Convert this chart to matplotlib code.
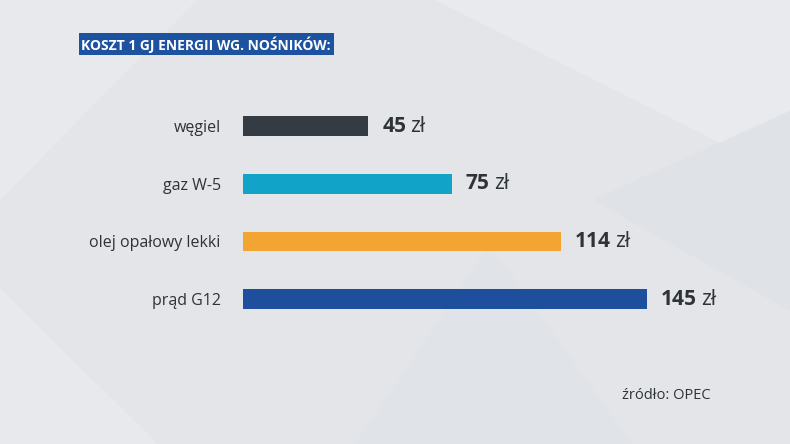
import matplotlib
matplotlib.use("Agg")
import matplotlib.pyplot as plt
from matplotlib.patches import Polygon

plt.rcParams['font.family'] = ['Open Sans', 'DejaVu Sans']

# dane
kategorie = ['węgiel', 'gaz W-5', 'olej opałowy lekki', 'prąd G12']
wartosci = [45, 75, 114, 145]
kolory = ['#353b42', '#11a3c8', '#f2a533', '#1d4f9c']
tytul = 'KOSZT 1 GJ ENERGII WG. NOŚNIKÓW:'
zrodlo = 'źródło: OPEC'

fig = plt.figure(figsize=(7.9, 4.44), dpi=100)
fig.patch.set_facecolor('#e3e5e9')

# tlo - delikatne wielokaty
tlo = [
    ([(0.0, 1.0), (0.25, 1.0), (0.0, 0.55)], '#e7e9ec'),
    ([(0.55, 1.0), (1.0, 1.0), (1.0, 0.6)], '#e8eaed'),
    ([(0.45, 0.0), (0.8, 0.0), (0.62, 0.45)], '#e0e3e7'),
    ([(0.0, 0.0), (0.2, 0.0), (0.0, 0.35)], '#e7e9ec'),
    ([(0.75, 0.55), (1.0, 0.3), (1.0, 0.75)], '#dfe2e6'),
]
for pts, c in tlo:
    fig.patches.append(Polygon(pts, closed=True, transform=fig.transFigure,
                               facecolor=c, edgecolor='none', zorder=0))

ax = fig.add_axes([0.3076, 0.2613, 0.5646, 0.5196])
ax.set_zorder(2)
ax.set_facecolor('none')
y = list(range(len(kategorie)))
ax.barh(y, wartosci, height=0.345, color=kolory)
ax.set_xlim(0, 160)
ax.set_ylim(3.5, -0.5)
ax.set_yticks(y)
ax.set_yticklabels(kategorie, fontsize=11.5, color='#2e3338')
ax.tick_params(axis='y', length=0, pad=16)
ax.set_xticks([])
for s in ax.spines.values():
    s.set_visible(False)

fig.canvas.draw()
r = fig.canvas.get_renderer()
inv = ax.transData.inverted()
for yi, v in zip(y, wartosci):
    t = ax.annotate(str(v), xy=(v, yi), xytext=(10, 0), textcoords='offset points',
                    ha='left', va='center', fontsize=15, fontweight='bold', color='#2e3338',
                    annotation_clip=False)
    bb = t.get_window_extent(r)
    x_end = inv.transform((bb.x1, 0))[0]
    ax.annotate('zł', xy=(x_end, yi), xytext=(3, 0), textcoords='offset points',
                ha='left', va='center', fontsize=15, color='#2e3338',
                annotation_clip=False)

fig.text(0.103, 0.9, tytul, fontsize=10, fontweight='bold', color='white',
         ha='left', va='center',
         bbox=dict(boxstyle='square,pad=0.2', facecolor='#1d52a0', edgecolor='none'))
fig.text(0.9, 0.11, zrodlo, fontsize=10.5, color='#2e3338', ha='right', va='center')

fig.savefig('out.png', dpi=100, facecolor=fig.get_facecolor())
